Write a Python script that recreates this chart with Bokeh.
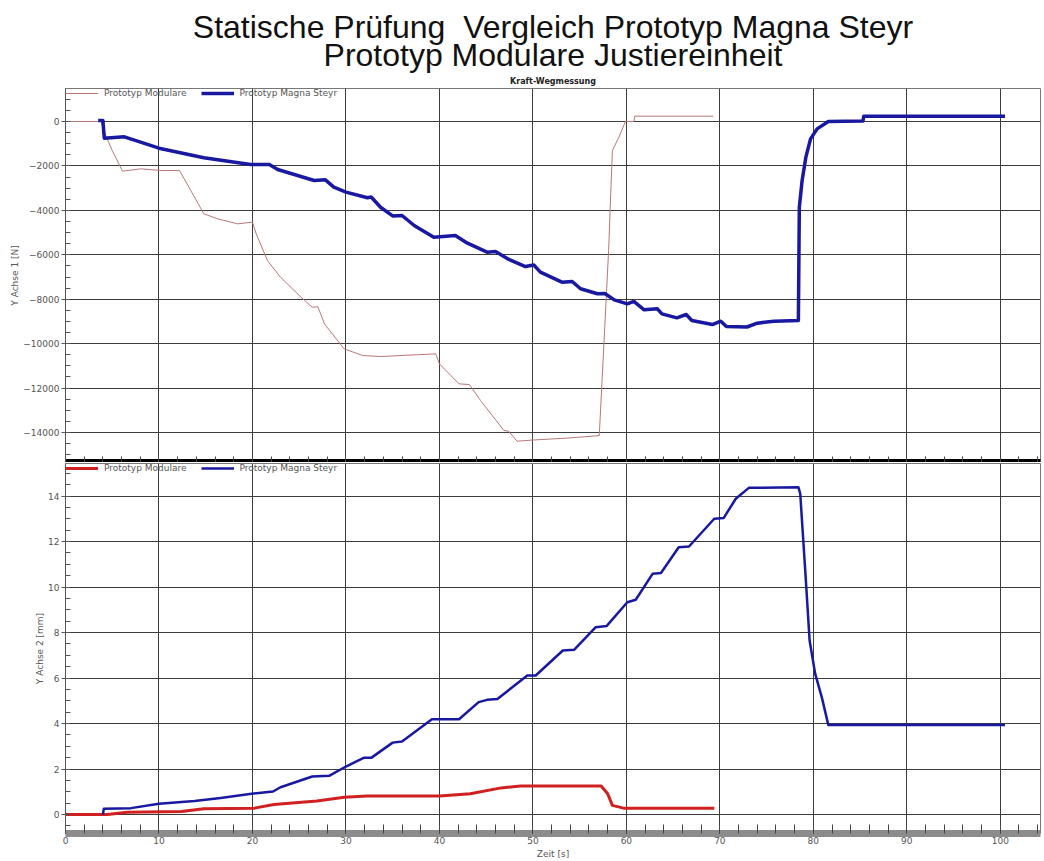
from bokeh.plotting import figure
from bokeh.models import Title, Legend, LegendItem, Range1d, SingleIntervalTicker, FixedTicker
from bokeh.layouts import column
from bokeh.embed import file_html
from bokeh.resources import INLINE

# ---------------- data ----------------
# Kraft (N) - Prototyp Modulare
mod_kraft_t = [0, 3.8, 4.15, 5.0, 6.1, 8.1, 10.2, 12.2, 13.4, 14.8, 16.3, 18.4, 20.0, 20.4,
               21.6, 23.0, 25.2, 26.4, 27.0, 27.7, 29.8, 31.8, 33.7, 35.9, 39.6, 40.0, 42.1,
               43.2, 44.4, 46.9, 47.4, 48.3, 49.9, 53.7, 57.1, 58.1, 58.5, 59.2, 59.9, 60.8,
               60.9, 69.3]
mod_kraft_n = [0, 0, -480, -1305, -2235, -2130, -2205, -2205, -3106, -4156, -4381, -4606,
               -4531, -5056, -6258, -7009, -7910, -8360, -8340, -9108, -10233, -10535, -10580,
               -10535, -10460, -10910, -11810, -11840, -12560, -13911, -13940, -14392, -14340,
               -14250, -14140, -5808, -1305, -705, 0, 0, 240, 240]
# Kraft (N) - Prototyp Magna Steyr
mag_kraft_t = [3.5, 4.0, 4.15, 6.3, 10.0, 14.8, 19.8, 21.8, 22.7, 26.6, 27.8, 28.7, 30.0,
               32.3, 32.7, 33.7, 35.0, 36.0, 37.3, 39.4, 41.7, 43.0, 45.1, 46.0, 47.3, 49.2,
               50.1, 50.8, 53.1, 54.2, 55.1, 56.9, 57.7, 58.7, 60.1, 60.8, 61.9, 63.3, 63.8,
               65.4, 66.4, 67.0, 69.2, 70.1, 70.7, 72.9, 74.0, 75.8, 78.4, 78.5, 78.8, 79.2,
               79.7, 80.4, 81.6, 85.3, 85.4, 100.5]
mag_kraft_n = [50, 50, -750, -690, -1200, -1635, -1935, -1935, -2160, -2655, -2625, -2955,
               -3180, -3435, -3400, -3858, -4250, -4230, -4682, -5208, -5130, -5478, -5883,
               -5850, -6183, -6528, -6460, -6780, -7233, -7200, -7530, -7755, -7740, -8028,
               -8208, -8100, -8478, -8430, -8658, -8838, -8688, -8958, -9138, -8988, -9228,
               -9250, -9078, -8988, -8958, -3858, -2655, -1605, -780, -330, 0, 20, 240, 240]
# Weg (mm) - Prototyp Modulare
mod_weg_t = [0, 4.5, 6.6, 12.4, 14.8, 20.2, 22.3, 26.9, 29.8, 32.3, 40.0, 43.3, 46.6, 48.7,
             57.3, 58.0, 58.5, 59.7, 69.4]
mod_weg_mm = [0, 0, 0.10, 0.13, 0.25, 0.28, 0.44, 0.59, 0.76, 0.81, 0.81, 0.91, 1.17, 1.25,
              1.25, 0.91, 0.40, 0.28, 0.28]
# Weg (mm) - Prototyp Magna Steyr
mag_weg_t = [4.0, 4.1, 7.0, 10.0, 13.8, 16.6, 19.9, 22.2, 23.0, 26.4, 28.2, 30.0, 31.9, 32.7,
             35.0, 36.0, 39.2, 42.1, 44.2, 45.1, 46.2, 49.4, 50.3, 53.2, 54.4, 56.7, 57.9,
             60.1, 61.0, 62.8, 63.7, 65.6, 66.7, 69.4, 70.4, 71.7, 73.1, 78.4, 78.6, 79.2,
             79.6, 80.2, 80.9, 81.6, 100.5]
mag_weg_mm = [0, 0.25, 0.28, 0.47, 0.59, 0.73, 0.91, 1.01, 1.20, 1.67, 1.70, 2.11, 2.49, 2.49,
              3.16, 3.21, 4.19, 4.19, 4.94, 5.04, 5.08, 6.11, 6.11, 7.21, 7.24, 8.23, 8.29,
              9.33, 9.44, 10.58, 10.62, 11.75, 11.78, 13.00, 13.03, 13.88, 14.36, 14.39, 14.10,
              10.29, 7.65, 6.18, 5.16, 3.94, 3.94]

series_names = ["Prototyp Modulare", "Prototyp Magna Steyr"]
title_line1 = "Statische Prüfung\u00a0 Vergleich Prototyp Magna Steyr"
title_line2 = "Prototyp Modulare Justiereinheit"
subtitle = "Kraft-Wegmessung"
y1_label = "Y Achse 1 [N]"
y2_label = "Y Achse 2 [mm]"
x_label = "Zeit [s]"

# ---------------- style ----------------
FONT = "DejaVu Sans"
TXT = "#555555"
GRID = "#3c3c3c"
BLUE = "#1818a0"
RED_THIN = "#b87878"
RED = "#d02020"


def style_common(p, y_interval, y_label):
    p.xgrid.ticker = SingleIntervalTicker(interval=10)
    p.ygrid.ticker = SingleIntervalTicker(interval=y_interval)
    for g in (p.xgrid, p.ygrid):
        g.grid_line_color = GRID
        g.grid_line_width = 1
    p.outline_line_color = "#777777"
    ya = p.yaxis[0]
    ya.ticker = SingleIntervalTicker(interval=y_interval, num_minor_ticks=4)
    ya.axis_line_color = "#555555"
    ya.major_tick_line_color = "#555555"
    ya.minor_tick_line_color = "#555555"
    ya.major_tick_out = 4
    ya.major_tick_in = 0
    ya.minor_tick_out = 0
    ya.minor_tick_in = 5
    ya.major_label_text_font = FONT
    ya.major_label_text_font_size = "9px"
    ya.major_label_text_color = TXT
    ya.major_label_standoff = 2
    ya.axis_label = y_label
    ya.axis_label_text_font = FONT
    ya.axis_label_text_font_size = "9px"
    ya.axis_label_text_font_style = "normal"
    ya.axis_label_text_color = TXT
    ya.axis_label_standoff = 0
    xa = p.xaxis[0]
    xa.major_tick_out = 0
    xa.minor_tick_out = 0
    xa.major_tick_line_color = "#444444"
    xa.minor_tick_line_color = "#444444"


def add_legend(p, renderers):
    items = [LegendItem(label=n, renderers=[r]) for n, r in zip(series_names, renderers)]
    lg = Legend(items=items, location="top_left", orientation="horizontal",
                label_text_font=FONT, label_text_font_size="9px", label_text_color=TXT,
                glyph_width=33, glyph_height=8, label_standoff=6, spacing=14,
                padding=2, margin=0, border_line_color=None, background_fill_alpha=0,
                label_height=8)
    p.add_layout(lg)


# ---------------- top figure: Kraft ----------------
p1 = figure(width=1044, height=462, x_range=Range1d(0, 104.3), y_range=Range1d(-15350, 1486),
            output_backend="svg", toolbar_location=None,
            min_border_left=65, min_border_right=4, min_border_top=88, min_border_bottom=0)
p1.add_layout(Title(text=subtitle, align="center", text_font=FONT, text_font_size="8px",
                    text_font_style="bold", text_color="#222222", standoff=5), "above")
p1.add_layout(Title(text=title_line2, align="center", text_font="Liberation Sans",
                    text_font_size="32px", text_font_style="normal",
                    text_color="#111111", standoff=0), "above")
p1.add_layout(Title(text=title_line1, align="center", text_font="Liberation Sans",
                    text_font_size="32px", text_font_style="normal",
                    text_color="#111111", standoff=-21), "above")

r1a = p1.line(mod_kraft_t, mod_kraft_n, line_color=RED_THIN, line_width=1)
r1b = p1.line(mag_kraft_t, mag_kraft_n, line_color=BLUE, line_width=3.5, line_join="round")
style_common(p1, 2000, y1_label)
xa1 = p1.xaxis[0]
# black separator band: axis line only, minor ticks every 2 s, no labels
xa1.ticker = FixedTicker(ticks=[], minor_ticks=list(range(0, 105, 2)))
xa1.axis_line_color = "black"
xa1.axis_line_width = 7
xa1.major_label_standoff = 0
xa1.minor_tick_in = 6
add_legend(p1, [r1a, r1b])

# ---------------- bottom figure: Weg ----------------
p2 = figure(width=1044, height=399, x_range=p1.x_range, y_range=Range1d(-0.835, 15.43),
            output_backend="svg", toolbar_location=None,
            min_border_left=65, min_border_right=4, min_border_top=1, min_border_bottom=0)
r2a = p2.line(mod_weg_t, mod_weg_mm, line_color=RED, line_width=3, line_join="round")
r2b = p2.line(mag_weg_t, mag_weg_mm, line_color=BLUE, line_width=2.5, line_join="round")
style_common(p2, 2, y2_label)
xa2 = p2.xaxis[0]
xa2.ticker = SingleIntervalTicker(interval=10, num_minor_ticks=5)
xa2.axis_line_color = "#8c8c8c"
xa2.axis_line_width = 7
xa2.major_tick_in = 9
xa2.minor_tick_in = 9
xa2.major_label_text_font = FONT
xa2.major_label_text_font_size = "9px"
xa2.major_label_text_color = TXT
xa2.major_label_standoff = 3
xa2.axis_label = x_label
xa2.axis_label_text_font = FONT
xa2.axis_label_text_font_size = "9px"
xa2.axis_label_text_font_style = "normal"
xa2.axis_label_text_color = TXT
xa2.axis_label_standoff = 2
add_legend(p2, [r2a, r2b])

layout = column(p1, p2, spacing=0)
open("out.html", "w").write(file_html(layout, INLINE))
